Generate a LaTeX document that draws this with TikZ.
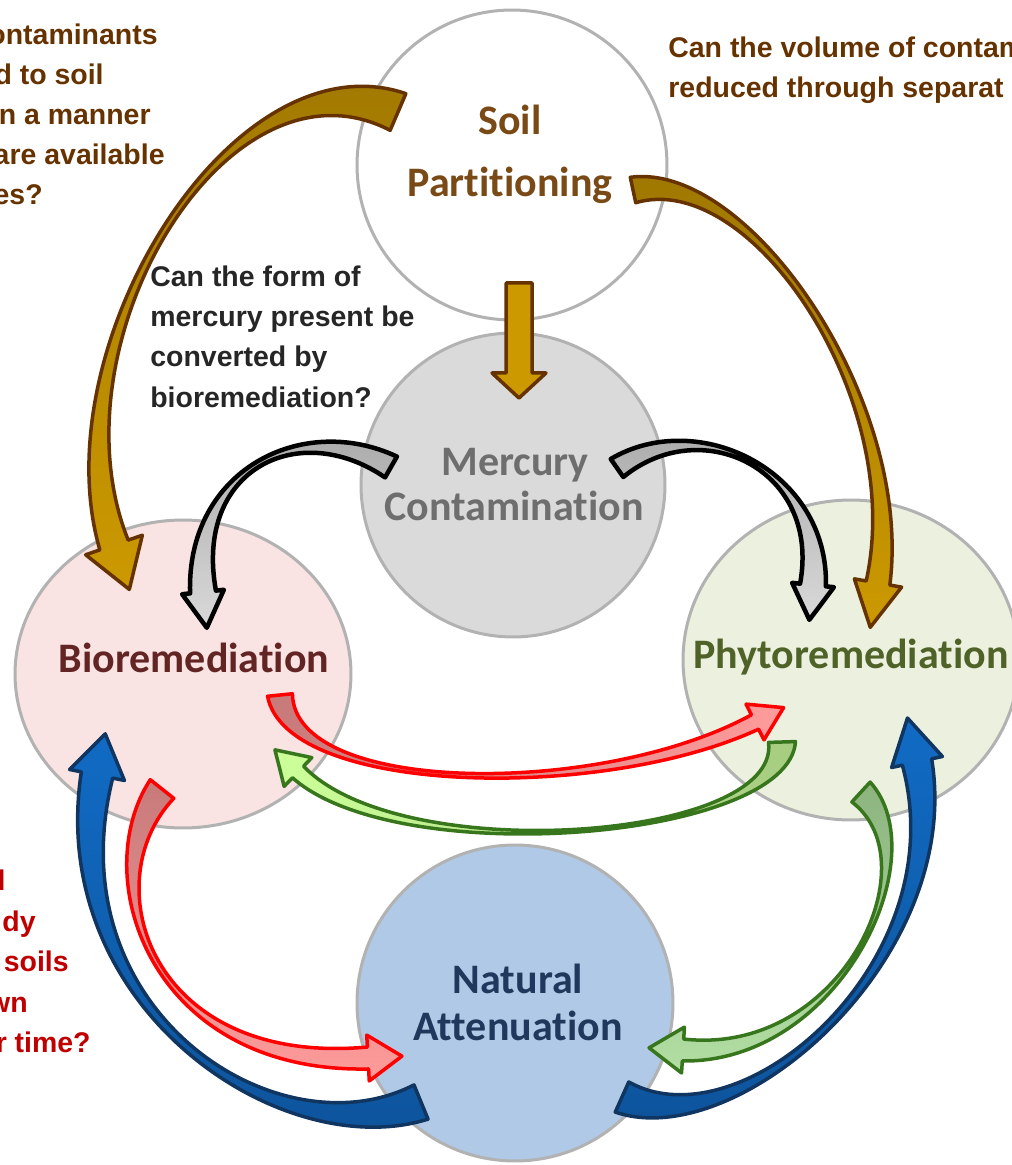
\documentclass[tikz,border=0pt]{standalone}
\usepackage{fontspec}
\usetikzlibrary{calc}
\usetikzlibrary{shapes.geometric}
\newfontfamily\calibrifont[Ligatures=NoCommon]{Carlito}
\newfontfamily\arialfont{Liberation Sans}
% circles
\definecolor{rimgray}{RGB}{178,178,178}
\definecolor{mercuryfill}{RGB}{218,218,218}
\definecolor{biofill}{RGB}{249,227,227}
\definecolor{phytofill}{RGB}{235,241,222}
\definecolor{naturalfill}{RGB}{175,201,231}
\definecolor{soilbrown}{RGB}{122,74,22}
\definecolor{mercurygray}{RGB}{110,110,110}
\definecolor{biored}{RGB}{99,37,35}
\definecolor{phytogreen}{RGB}{79,98,40}
\definecolor{naturalblue}{RGB}{31,56,92}
% questions
\definecolor{brownq}{RGB}{102,51,0}
\definecolor{darkq}{RGB}{38,38,38}
\definecolor{redq}{RGB}{192,0,0}
% arrows
\definecolor{golddark}{RGB}{158,119,0}
\definecolor{goldlight}{RGB}{204,153,0}
\definecolor{goldedge}{RGB}{102,51,0}
\definecolor{graydark}{RGB}{166,166,166}
\definecolor{graylight}{RGB}{217,217,217}
\definecolor{reddark}{RGB}{199,122,122}
\definecolor{redlight}{RGB}{255,155,155}
\definecolor{rededge}{RGB}{255,0,0}
\definecolor{greentail}{RGB}{166,204,128}
\definecolor{greenhead}{RGB}{204,255,153}
\definecolor{greentailb}{RGB}{141,180,127}
\definecolor{greenheadb}{RGB}{178,222,163}
\definecolor{greenedge}{RGB}{56,118,29}
\definecolor{bluedark}{RGB}{13,82,153}
\definecolor{bluelight}{RGB}{17,107,196}
\definecolor{blueedge}{RGB}{16,53,96}

\tikzset{
  disc/.style={circle,inner sep=0pt,line width=0.06cm,draw=rimgray},
  oval/.style={ellipse,inner sep=0pt,line width=0.06cm,draw=rimgray},
  title/.style={font=\calibrifont\bfseries\fontsize{23.9}{28}\selectfont,anchor=base,inner sep=0pt},
  question/.style={font=\arialfont\bfseries\fontsize{16.2}{23}\selectfont,inner sep=0pt},
  goldline/.style={draw=goldedge,line width=0.07cm,line join=round},
  grayline/.style={draw=black,line width=0.09cm,line join=round},
  redline/.style={draw=rededge,line width=0.07cm,line join=round},
  greenline/.style={draw=greenedge,line width=0.07cm,line join=round},
  blueline/.style={draw=blueedge,line width=0.07cm,line join=round}
}

% bent block arrow: [style]{tail}{control 1}{control 2}{neck}{tail width}{neck width}{head width}{head length}
\newcommand{\bendarrow}[9][]{%
  \coordinate (p0) at #2;
  \coordinate (c1) at #3;
  \coordinate (c2) at #4;
  \coordinate (p3) at #5;
  \coordinate (tl) at ($(p0)!#6*0.01cm!90:(c1)$);
  \coordinate (tr) at ($(p0)!#6*0.01cm!-90:(c1)$);
  \coordinate (nl) at ($(p3)!#7*0.01cm!-90:(c2)$);
  \coordinate (nr) at ($(p3)!#7*0.01cm!90:(c2)$);
  \coordinate (wl) at ($(p3)!#8*0.01cm!-90:(c2)$);
  \coordinate (wr) at ($(p3)!#8*0.01cm!90:(c2)$);
  \coordinate (tip) at ($(p3)!-#9*0.02cm!(c2)$);
  \draw [#1] (tl) .. controls ($(c1)+0.3*(tl)-0.3*(p0)$) and ($(c2)+0.3*(nl)-0.3*(p3)$) .. (nl)
    -- (wl) -- (tip) -- (wr) -- (nr)
    .. controls ($(c2)+0.3*(nr)-0.3*(p3)$) and ($(c1)+0.3*(tr)-0.3*(p0)$) .. (tr) -- cycle;
}

\begin{document}
\begin{tikzpicture}[x=0.02cm,y=-0.02cm]
\useasboundingbox (0,0) rectangle (1011,1165);

%% circles
\node [disc,fill=white,minimum size=6.2cm] (soil) at (512,165) {};
\node [disc,fill=mercuryfill,minimum size=6.08cm] (mercury) at (513,485) {};
\node [oval,fill=biofill,minimum width=6.72cm,minimum height=6.16cm] (bio) at (183,674) {};
\node [oval,fill=phytofill,minimum width=6.72cm,minimum height=6.4cm] (phyto) at (851,660) {};
\node [disc,fill=naturalfill,minimum size=6.32cm] (natural) at (515,1003) {};

%% arrows
% from soil partitioning
\bendarrow[goldline,top color=golddark,bottom color=goldlight]{(398,112)}{(230,40)}{(45,345)}{(114,545)}{40}{30}{60}{47}
\bendarrow[goldline,top color=golddark,bottom color=goldlight]{(633,190)}{(750,165)}{(910,400)}{(878,583)}{26}{24}{48}{45}
\draw [goldline,fill=goldlight] (506,283) -- (532,283) -- (532,373) -- (546,373) -- (519,398) -- (492,373) -- (506,373) -- cycle;
% from mercury contamination
\bendarrow[grayline,top color=graydark,bottom color=graylight]{(391,467)}{(300,415)}{(190,470)}{(203,592)}{24}{26}{42}{36}
\bendarrow[grayline,top color=graydark,bottom color=graylight]{(617,468)}{(700,410)}{(825,470)}{(813,585)}{22}{26}{42}{35}
% between bioremediation and phytoremediation
\bendarrow[redline,left color=reddark,right color=redlight]{(280,695)}{(290,795)}{(600,800)}{(755,722)}{25}{16}{40}{32}
\bendarrow[greenline,left color=greenhead,right color=greentail]{(782,742)}{(785,840)}{(400,870)}{(298,772)}{27}{16}{40}{32}
% towards natural attenuation
\bendarrow[redline,top color=reddark,bottom color=redlight]{(162,789)}{(90,880)}{(150,1070)}{(368,1058)}{30}{22}{46}{34}
\bendarrow[greenline,top color=greentailb,bottom color=greenheadb]{(861,792)}{(935,860)}{(840,1060)}{(683,1050)}{27}{22}{46}{34}
% from natural attenuation
\bendarrow[blueline,top color=bluelight,bottom color=bluedark]{(421,1102)}{(280,1160)}{(50,1010)}{(97,775)}{37}{32}{56}{42}
\bendarrow[blueline,top color=bluelight,bottom color=bluedark]{(622,1097)}{(740,1150)}{(960,960)}{(917,762)}{33}{30}{52}{45}

%% circle labels
\node [title,text=soilbrown] (soil1) at (510,135) {Soil};
\node [title,text=soilbrown] (soil2) at (510,197) {Partitioning};
\node [title,text=mercurygray] (mercury1) at (515,475) {Mercury};
\node [title,text=mercurygray] (mercury2) at (514,520) {Contamination};
\node [title,text=biored] (bio1) at (194,672) {Bioremediation};
\node [title,text=phytogreen] (phyto1) at (851,668) {Phytoremediation};
\node [title,text=naturalblue] (natural1) at (518,993) {Natural};
\node [title,text=naturalblue] (natural2) at (518,1040) {Attenuation};

%% questions
% top left
\node [question,text=brownq,anchor=base east] (ql1) at (158,45) {ontaminants};
\node [question,text=brownq,anchor=base east] (ql2) at (104,85) {d to soil};
\node [question,text=brownq,anchor=base east] (ql3) at (151,125) {n a manner};
\node [question,text=brownq,anchor=base east] (ql4) at (165,165) {are available};
\node [question,text=brownq,anchor=base east] (ql5) at (43,205) {es?};
% top right
\node [question,text=brownq,anchor=base west] (qr1) at (668,58) {Can the volume of contam};
\node [question,text=brownq,anchor=base west] (qr2) at (668,98) {reduced through separat};
% middle
\node [question,text=darkq,anchor=base west] (qm1) at (150,287) {Can the form of};
\node [question,text=darkq,anchor=base west] (qm2) at (150,327) {mercury present be};
\node [question,text=darkq,anchor=base west] (qm3) at (150,367) {converted by};
\node [question,text=darkq,anchor=base west] (qm4) at (150,407) {bioremediation?};
% bottom left
\node [question,text=redq,anchor=base east] (qb1) at (6,890) {l};
\node [question,text=redq,anchor=base east] (qb2) at (36,931) {dy};
\node [question,text=redq,anchor=base east] (qb3) at (69,971) {soils};
\node [question,text=redq,anchor=base east] (qb4) at (28,1012) {wn};
\node [question,text=redq,anchor=base east] (qb5) at (91,1052) {r time?};

\end{tikzpicture}
\end{document}
